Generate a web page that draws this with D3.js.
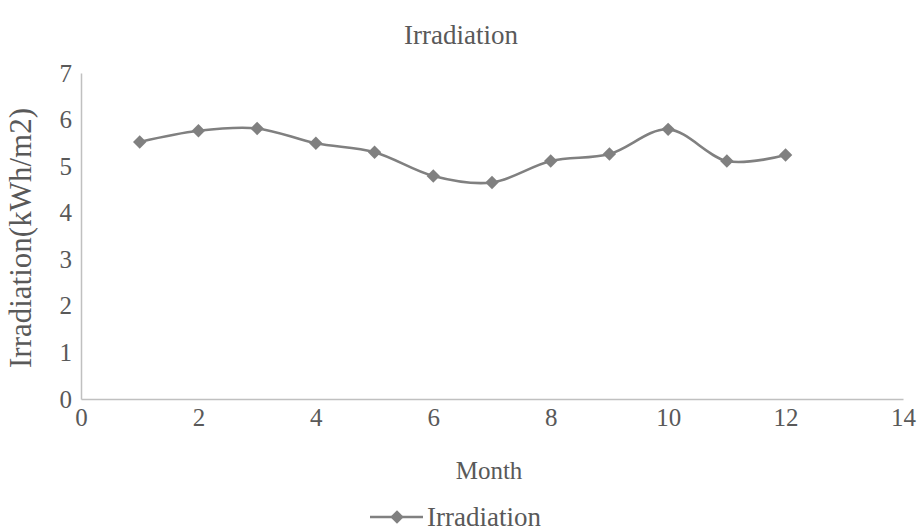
<!DOCTYPE html>
<html>
<head>
<meta charset="utf-8">
<script src="https://cdn.jsdelivr.net/npm/d3@7"></script>
<style>
  body { margin: 0; background: #fff; }
  text { font-family: "Liberation Serif", "Times New Roman", serif; fill: #595959; }
</style>
</head>
<body>
<svg id="chart"></svg>
<script>
// data
const months = [1, 2, 3, 4, 5, 6, 7, 8, 9, 10, 11, 12];
const irradiation = [5.52, 5.76, 5.81, 5.49, 5.30, 4.79, 4.65, 5.11, 5.26, 5.79, 5.11, 5.24];
const xTicks = [0, 2, 4, 6, 8, 10, 12, 14];
const yTicks = [0, 1, 2, 3, 4, 5, 6, 7];

const width = 919, height = 531;
const margin = { top: 73, right: 16, bottom: 132, left: 81 };
const innerWidth = width - margin.left - margin.right;
const innerHeight = height - margin.top - margin.bottom;
const color = '#808080';

const svg = d3.select('#chart')
    .attr('width', width)
    .attr('height', height);

const g = svg.append('g')
    .attr('transform', `translate(${margin.left},${margin.top})`);

const x = d3.scaleLinear().domain([0, 14]).range([0, innerWidth]);
const y = d3.scaleLinear().domain([0, 7]).range([innerHeight, 0]);

// axes, no tick marks like the excel original
const xAxis = g.append('g')
    .attr('transform', `translate(0,${innerHeight})`)
    .call(d3.axisBottom(x).tickValues(xTicks).tickFormat(d3.format('d')).tickSize(0).tickPadding(9));
const yAxis = g.append('g')
    .call(d3.axisLeft(y).tickValues(yTicks).tickFormat(d3.format('d')).tickSize(0).tickPadding(9));

[xAxis, yAxis].forEach(a => {
    a.select('.domain').attr('stroke', '#c0c0c0').attr('stroke-width', 1.5);
    a.selectAll('text').attr('font-size', '25px').attr('fill', '#595959');
});

// smoothed line
const data = months.map((m, i) => ({ m: m, v: irradiation[i] }));
const line = d3.line()
    .x(d => x(d.m))
    .y(d => y(d.v))
    .curve(d3.curveCardinal.tension(0));

g.append('path')
    .datum(data)
    .attr('fill', 'none')
    .attr('stroke', color)
    .attr('stroke-width', 2.6)
    .attr('d', line);

const diamond = d3.symbol().type(d3.symbolSquare).size(90);
g.selectAll('.pt')
    .data(data)
    .join('path')
    .attr('class', 'pt')
    .attr('d', diamond)
    .attr('fill', color)
    .attr('transform', d => `translate(${x(d.m)},${y(d.v)}) rotate(45)`);

// titles
svg.append('text')
    .attr('x', 461).attr('y', 44)
    .attr('text-anchor', 'middle')
    .attr('font-size', '27px')
    .text('Irradiation');

svg.append('text')
    .attr('x', margin.left + innerWidth / 2 - 3).attr('y', 479)
    .attr('text-anchor', 'middle')
    .attr('font-size', '25px')
    .text('Month');

svg.append('text')
    .attr('transform', `translate(31,${margin.top + innerHeight / 2 + 2}) rotate(-90)`)
    .attr('text-anchor', 'middle')
    .attr('font-size', '31px')
    .text('Irradiation(kWh/m2)');

// legend
const lg = svg.append('g').attr('transform', 'translate(370,517)');
lg.append('line')
    .attr('x1', 0).attr('x2', 53)
    .attr('stroke', color).attr('stroke-width', 2.6);
lg.append('path')
    .attr('d', diamond)
    .attr('fill', color)
    .attr('transform', 'translate(27,0) rotate(45)');
lg.append('text')
    .attr('x', 57).attr('y', 9)
    .attr('font-size', '27px')
    .text('Irradiation');
</script>
</body>
</html>
